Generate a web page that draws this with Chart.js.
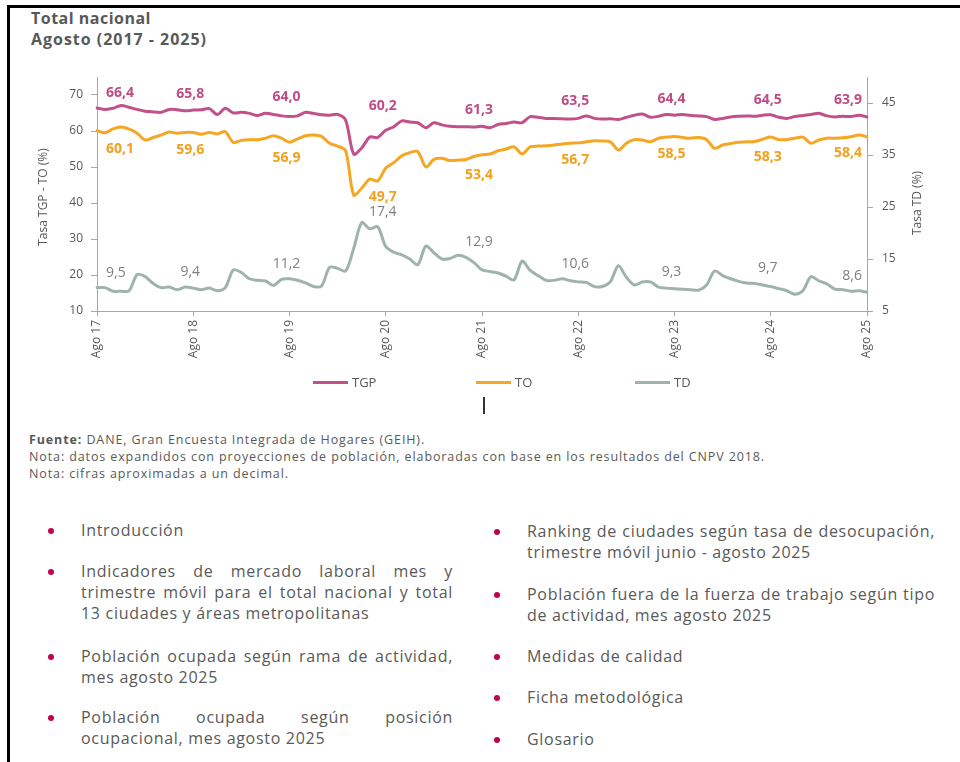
<!DOCTYPE html>
<html lang="es">
<head>
<meta charset="UTF-8">
<meta name="viewport" content="width=device-width, initial-scale=1.0">
<title>Total nacional - Agosto (2017 - 2025)</title>
<script src="https://cdn.jsdelivr.net/npm/chart.js"></script>
<style>
    body {
        margin: 0;
        background: #fff;
        font-family: "Open Sans", sans-serif;
        color: #595959;
    }

    .page {
        position: relative;
        width: 960px;
        height: 762px;
        overflow: hidden;
    }

    .marco {
        position: absolute;
        left: 7px;
        top: 5px;
        right: -10px;
        bottom: -10px;
        border-top: 3px solid #000;
        border-left: 3px solid #000;
    }

    .titulo {
        position: absolute;
        left: 31px;
        font-size: 16px;
        font-weight: 700;
        line-height: 20px;
        white-space: nowrap;
    }

    #chartBox {
        position: absolute;
        left: 0;
        top: 0;
        width: 960px;
        height: 400px;
    }

    .ley {
        position: absolute;
        top: 374px;
        height: 16px;
        line-height: 16px;
        font-size: 13px;
        white-space: nowrap;
    }

    .ley i {
        display: inline-block;
        width: 35px;
        height: 3px;
        vertical-align: middle;
        margin-right: 4px;
        position: relative;
        top: -1px;
    }

    .cursor {
        position: absolute;
        left: 483px;
        top: 397px;
        width: 1.5px;
        height: 17px;
        background: #333;
    }

    .fuente {
        position: absolute;
        left: 29px;
        font-size: 12.5px;
        line-height: 16px;
        white-space: nowrap;
    }

    .item {
        position: absolute;
        font-size: 16px;
        letter-spacing: 0.7px;
        line-height: 21px;
    }

    .item .ln {
        white-space: nowrap;
    }

    .item .dot {
        position: absolute;
        left: -33px;
        top: 8px;
        width: 6px;
        height: 6px;
        border-radius: 50%;
        background: #c4004f;
    }
</style>
</head>
<body>
<div class="page">
    <div class="marco"></div>

    <div class="titulo fit" data-w="120" style="top:8px">Total nacional</div>
    <div class="titulo fit" data-w="176" style="top:29px">Agosto (2017 - 2025)</div>

    <div id="chartBox"><canvas id="grafico" width="960" height="400"></canvas></div>
    <div id="leyenda"></div>
    <div class="cursor"></div>

    <div class="fuente" id="f1" style="top:432px"><b>Fuente:</b> DANE, Gran Encuesta Integrada de Hogares (GEIH).</div>
    <div class="fuente" id="f2" style="top:449px">Nota: datos expandidos con proyecciones de población, elaboradas con base en los resultados del CNPV 2018.</div>
    <div class="fuente" id="f3" style="top:466px">Nota: cifras aproximadas a un decimal.</div>

    <!-- columna izquierda -->
    <div class="item" style="left:81px; top:520px; width:372px">
        <span class="dot"></span>
        <div class="ln">Introducción</div>
    </div>
    <div class="item" style="left:81px; top:561px; width:372px">
        <span class="dot"></span>
        <div class="ln j">Indicadores de mercado laboral mes y</div>
        <div class="ln j">trimestre móvil para el total nacional y total</div>
        <div class="ln">13 ciudades y áreas metropolitanas</div>
    </div>
    <div class="item" style="left:81px; top:646px; width:372px">
        <span class="dot"></span>
        <div class="ln j">Población ocupada según rama de actividad,</div>
        <div class="ln">mes agosto 2025</div>
    </div>
    <div class="item" style="left:81px; top:707px; width:372px">
        <span class="dot"></span>
        <div class="ln j">Población ocupada según posición</div>
        <div class="ln">ocupacional, mes agosto 2025</div>
    </div>

    <!-- columna derecha -->
    <div class="item" style="left:527px; top:521px; width:408px">
        <span class="dot"></span>
        <div class="ln j">Ranking de ciudades según tasa de desocupación,</div>
        <div class="ln">trimestre móvil junio - agosto 2025</div>
    </div>
    <div class="item" style="left:527px; top:584px; width:408px">
        <span class="dot"></span>
        <div class="ln j">Población fuera de la fuerza de trabajo según tipo</div>
        <div class="ln">de actividad, mes agosto 2025</div>
    </div>
    <div class="item" style="left:527px; top:646px; width:408px">
        <span class="dot"></span>
        <div class="ln">Medidas de calidad</div>
    </div>
    <div class="item" style="left:527px; top:687px; width:408px">
        <span class="dot"></span>
        <div class="ln">Ficha metodológica</div>
    </div>
    <div class="item" style="left:527px; top:729px; width:408px">
        <span class="dot"></span>
        <div class="ln">Glosario</div>
    </div>
</div>

<script>
    // meses de agosto 2017 a agosto 2025
    const mesesAbr = ['Ene', 'Feb', 'Mar', 'Abr', 'May', 'Jun', 'Jul', 'Ago', 'Sep', 'Oct', 'Nov', 'Dic'];
    const categorias = [];
    for (let k = 0; k < 97; k++) {
        const m = (7 + k) % 12;
        const anio = 2017 + Math.floor((7 + k) / 12);
        categorias.push(mesesAbr[m] + ' ' + String(anio).slice(2));
    }

    // Tasa global de participación (%)
    const tgp = [
        66.4, 66.0, 66.3, 67.1, 66.6, 66.0, 65.5, 65.3, 65.2, 66.0, 65.9, 65.6,
        65.8, 65.9, 66.2, 64.6, 66.3, 65.0, 65.2, 64.9, 64.3, 64.9, 64.6, 64.2,
        64.0, 64.2, 65.2, 64.9, 64.5, 64.4, 64.6, 63.0, 53.6, 55.3, 58.3, 58.2,
        60.2, 61.2, 62.8, 62.5, 62.3, 60.9, 62.3, 61.7, 61.3, 61.2, 61.2, 61.1,
        61.3, 60.9, 61.8, 62.1, 62.5, 62.3, 64.0, 63.8, 63.5, 63.5, 63.4, 63.3,
        63.5, 64.2, 63.5, 63.3, 63.4, 63.2, 63.8, 64.4, 64.7, 63.8, 64.1, 64.6,
        64.4, 64.6, 64.3, 64.2, 64.0, 63.2, 63.5, 63.9, 64.1, 64.2, 64.1, 64.4,
        64.5, 63.8, 63.5, 64.0, 64.3, 64.6, 64.9, 64.2, 63.9, 64.1, 64.0, 64.4,
        63.9
    ];

    // Tasa de ocupación (%)
    const to = [
        60.1, 59.5, 60.6, 61.1, 60.5, 59.4, 57.5, 58.2, 58.9, 59.7, 59.4, 59.6,
        59.6, 59.1, 59.6, 59.2, 59.8, 56.8, 57.4, 57.6, 57.6, 58.0, 58.7, 58.0,
        56.9, 57.8, 58.7, 58.9, 58.5, 56.6, 55.8, 54.5, 42.2, 44.1, 46.6, 46.1,
        49.7, 51.2, 53.1, 54.0, 54.3, 50.0, 52.1, 52.4, 51.8, 51.9, 52.1, 52.9,
        53.4, 53.6, 54.5, 55.0, 55.6, 53.6, 55.6, 55.8, 55.9, 56.1, 56.4, 56.6,
        56.7, 57.0, 57.3, 57.2, 57.0, 54.7, 56.6, 57.6, 57.5, 57.0, 58.0, 58.3,
        58.5, 58.2, 58.0, 58.2, 57.6, 55.2, 56.1, 56.5, 56.9, 57.0, 57.1, 57.7,
        58.3, 57.6, 57.6, 58.0, 58.3, 56.6, 57.5, 58.0, 58.0, 58.1, 58.4, 58.9,
        58.4
    ];

    // Tasa de desocupación (%)
    const td = [
        9.5, 9.5, 8.8, 8.8, 8.9, 12.0, 11.6, 10.3, 9.5, 9.6, 9.1, 9.6,
        9.4, 9.1, 9.4, 8.9, 9.5, 12.9, 12.4, 11.2, 10.9, 10.8, 9.9, 11.1,
        11.2, 10.9, 10.4, 9.7, 9.8, 13.4, 13.2, 12.7, 17.0, 22.0, 20.8, 21.2,
        17.4, 16.3, 15.8, 15.0, 13.9, 17.5, 16.2, 15.0, 15.1, 15.7, 15.3, 14.3,
        12.9, 12.6, 12.3, 11.7, 11.0, 14.6, 12.8, 11.8, 10.9, 10.9, 11.2, 10.8,
        10.6, 10.5, 9.7, 9.7, 10.6, 13.7, 11.5, 10.0, 10.6, 10.6, 9.6, 9.4,
        9.3, 9.2, 9.1, 9.0, 10.0, 12.7, 11.8, 11.2, 10.7, 10.4, 10.3, 10.0,
        9.7, 9.3, 8.9, 8.2, 8.9, 11.6, 10.8, 10.2, 9.2, 9.1, 8.8, 8.9,
        8.6
    ];

    const ticksIzq = [10, 20, 30, 40, 50, 60, 70];
    const ticksDer = [5, 15, 25, 35, 45];

    const GRIS = '#595959';
    const EJE = '#a6a6a6';
    const AREA = { left: 97, right: 867, top: 77, bottom: 311 };

    // etiquetas de valor en cada agosto
    const etiquetasAgosto = {
        id: 'etiquetasAgosto',
        afterDatasetsDraw(chart) {
            const ctx = chart.ctx;
            ctx.save();
            ctx.textBaseline = 'middle';
            chart.data.datasets.forEach((ds, d) => {
                const meta = chart.getDatasetMeta(d);
                const escala = chart.scales[ds.yAxisID];
                const n = ds.data.length;
                ds.data.forEach((v, i) => {
                    if (!categorias[i].startsWith('Ago')) return;
                    const ventana = ds.data.slice(Math.max(0, i - 2), i + 3);
                    const abajo = ds.posEtiqueta === 'abajo';
                    const ref = abajo ? Math.min(...ventana) : Math.max(...ventana);
                    const y = escala.getPixelForValue(ref) + (abajo ? 16 : -15);
                    let x = meta.data[i].x - 3;
                    ctx.textAlign = 'center';
                    if (i === 0) { x = meta.data[i].x + 9; ctx.textAlign = 'left'; }
                    if (i === n - 1) { x = meta.data[i].x - 5; ctx.textAlign = 'right'; }
                    ctx.font = ds.fuenteEtiqueta;
                    ctx.fillStyle = ds.colorEtiqueta;
                    ctx.fillText(v.toFixed(1).replace('.', ','), x, y);
                });
            });
            ctx.restore();
        }
    };

    // títulos de los ejes verticales
    const titulosEjes = {
        id: 'titulosEjes',
        afterDraw(chart) {
            const ctx = chart.ctx;
            const textos = [
                ['Tasa TGP - TO (%)', 44, 197],
                ['Tasa TD (%)', 918, 203]
            ];
            ctx.save();
            ctx.font = '12px "Open Sans"';
            ctx.fillStyle = GRIS;
            ctx.textAlign = 'center';
            ctx.textBaseline = 'middle';
            textos.forEach(([t, x, y]) => {
                ctx.save();
                ctx.translate(x, y);
                ctx.rotate(-Math.PI / 2);
                ctx.fillText(t, 0, 0);
                ctx.restore();
            });
            ctx.restore();
        }
    };

    const fuenteTicks = { family: 'Open Sans', size: 12 };

    const chart = new Chart(document.getElementById('grafico'), {
        type: 'line',
        data: {
            labels: categorias,
            datasets: [
                {
                    label: 'TGP',
                    data: tgp,
                    yAxisID: 'y',
                    borderColor: '#c2508a',
                    colorEtiqueta: '#bf4c87',
                    fuenteEtiqueta: 'bold 14px "Open Sans"',
                    posEtiqueta: 'arriba'
                },
                {
                    label: 'TO',
                    data: to,
                    yAxisID: 'y',
                    borderColor: '#f5a623',
                    colorEtiqueta: '#f2a01e',
                    fuenteEtiqueta: 'bold 14px "Open Sans"',
                    posEtiqueta: 'abajo'
                },
                {
                    label: 'TD',
                    data: td,
                    yAxisID: 'y1',
                    borderColor: '#9fb3ad',
                    colorEtiqueta: '#7f7f7f',
                    fuenteEtiqueta: '14px "Open Sans"',
                    posEtiqueta: 'arriba'
                }
            ]
        },
        options: {
            responsive: false,
            animation: false,
            layout: { padding: { top: AREA.top, left: 0, right: 0, bottom: 0 } },
            elements: {
                point: { radius: 0 },
                line: { borderWidth: 3, tension: 0.3, borderCapStyle: 'round', borderJoinStyle: 'round', fill: false }
            },
            plugins: {
                legend: { display: false },
                tooltip: { enabled: false }
            },
            scales: {
                x: {
                    type: 'category',
                    grid: { drawOnChartArea: false, drawTicks: true, tickLength: 5, color: EJE },
                    border: { color: EJE, width: 1 },
                    ticks: { autoSkip: false, minRotation: 90, maxRotation: 90, padding: 4, color: GRIS, font: fuenteTicks },
                    afterBuildTicks: s => { s.ticks = s.ticks.filter(t => categorias[t.value].startsWith('Ago')); },
                    afterFit: s => { s.height = 400 - AREA.bottom; }
                },
                y: {
                    position: 'left',
                    min: 10,
                    max: 75,
                    grid: { drawOnChartArea: false, tickLength: 6, color: EJE },
                    border: { color: EJE, width: 1 },
                    ticks: { padding: 8, color: GRIS, font: fuenteTicks },
                    afterBuildTicks: s => { s.ticks = ticksIzq.map(v => ({ value: v })); },
                    afterFit: s => { s.width = AREA.left; }
                },
                y1: {
                    position: 'right',
                    min: 5,
                    max: 50,
                    grid: { drawOnChartArea: false, tickLength: 6, color: EJE },
                    border: { color: EJE, width: 1 },
                    ticks: { padding: 9, color: GRIS, font: fuenteTicks },
                    afterBuildTicks: s => { s.ticks = ticksDer.map(v => ({ value: v })); },
                    afterFit: s => { s.width = 960 - AREA.right; }
                }
            }
        },
        plugins: [etiquetasAgosto, titulosEjes]
    });

    // ajustar el borde superior del área de trazado
    const dy = chart.chartArea.top - AREA.top;
    if (dy !== 0) {
        chart.options.layout.padding.top -= dy;
        chart.update('none');
    }

    // leyenda con líneas
    const leyendaX = [313, 476, 635];
    const leyenda = document.getElementById('leyenda');
    chart.data.datasets.forEach((ds, k) => {
        const el = document.createElement('div');
        el.className = 'ley';
        el.style.left = leyendaX[k] + 'px';
        el.innerHTML = '<i style="background:' + ds.borderColor + '"></i>' + ds.label;
        leyenda.appendChild(el);
    });

    // ancho de los textos
    function ajustarAncho(el, w) {
        el.style.letterSpacing = '0px';
        const nat = el.getBoundingClientRect().width;
        const ls = (w - nat) / el.textContent.length;
        el.style.letterSpacing = ls + 'px';
        return ls;
    }
    document.querySelectorAll('.fit').forEach(el => {
        el.style.display = 'inline-block';
        ajustarAncho(el, +el.dataset.w);
    });
    ['f1', 'f2', 'f3'].forEach(id => document.getElementById(id).style.display = 'inline-block');
    const lsFuente = ajustarAncho(document.getElementById('f2'), 736);
    document.getElementById('f1').style.letterSpacing = lsFuente + 'px';
    document.getElementById('f3').style.letterSpacing = lsFuente + 'px';

    // líneas justificadas de la lista
    document.querySelectorAll('.item .j').forEach(el => {
        const w = el.parentElement.clientWidth;
        const texto = el.textContent;
        el.innerHTML = '<span>' + texto + '</span>';
        const nat = el.firstChild.getBoundingClientRect().width;
        const huecos = (texto.match(/ /g) || []).length;
        if (huecos) el.style.wordSpacing = ((w - nat) / huecos) + 'px';
    });
</script>
</body>
</html>
